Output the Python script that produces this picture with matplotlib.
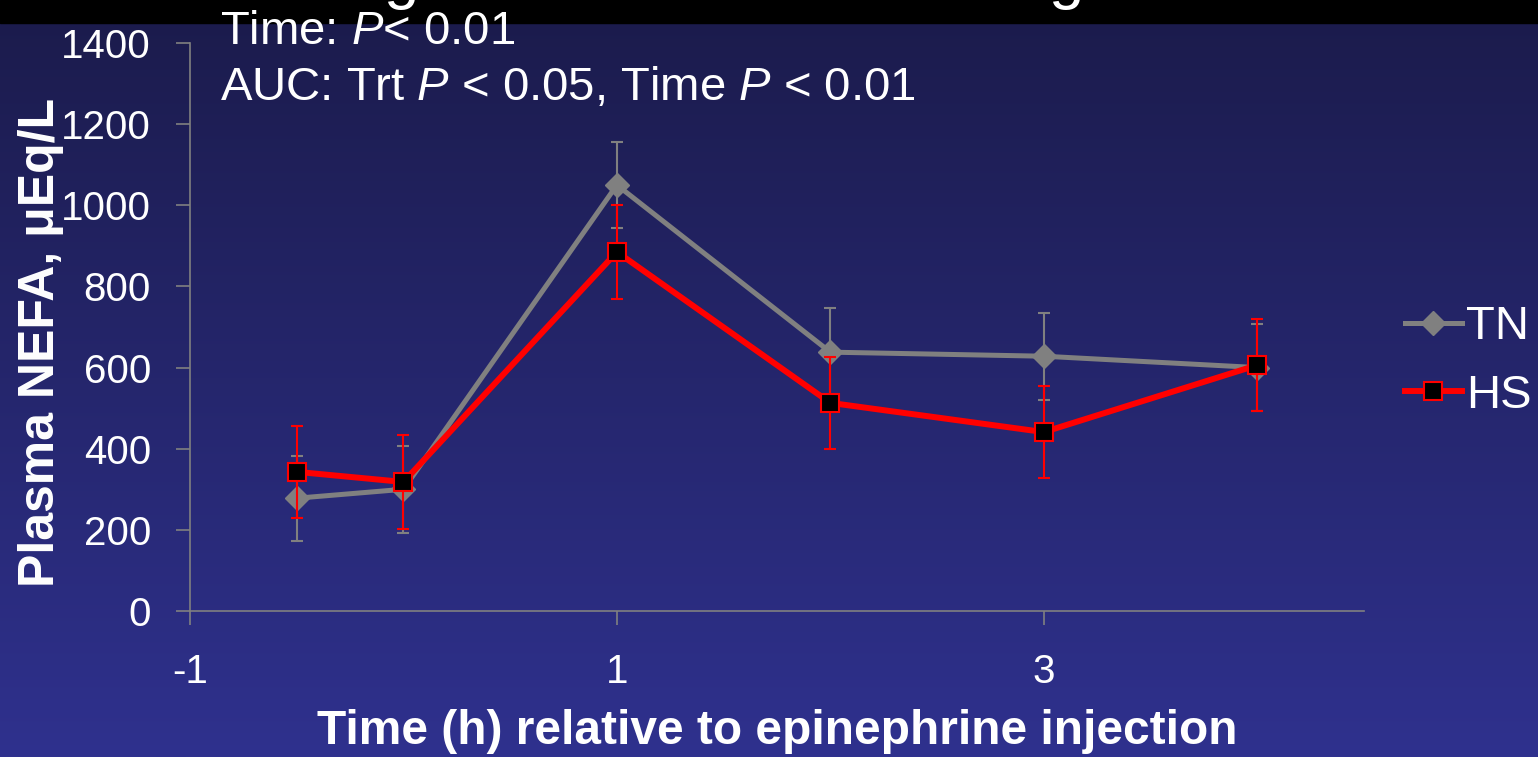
import numpy as np
import matplotlib
matplotlib.use("Agg")
import matplotlib.pyplot as plt
from matplotlib.lines import Line2D
from matplotlib.colors import LinearSegmentedColormap

plt.rcParams['font.family'] = ['Liberation Sans', 'DejaVu Sans']
plt.rcParams['mathtext.fontset'] = 'custom'
plt.rcParams['mathtext.it'] = 'Liberation Sans:italic'
plt.rcParams['mathtext.rm'] = 'Liberation Sans'
plt.rcParams['axes.unicode_minus'] = False

# ---- data ----
time_h = [-0.5, 0, 1, 2, 3, 4]
tn_mean = [278, 300, 1050, 638, 628, 600]
tn_err = [105, 107, 107, 108, 107, 108]
hs_mean = [343, 318, 885, 513, 441, 606]
hs_err = [113, 115, 115, 114, 113, 113]
series_labels = ["TN", "HS"]
x_ticks = [-1, 1, 3]
y_ticks = [0, 200, 400, 600, 800, 1000, 1200, 1400]
annot1 = r"Time: $P$< 0.01"
annot2 = r"AUC: Trt $P$ < 0.05, Time $P$ < 0.01"
xlabel = "Time (h) relative to epinephrine injection"
ylabel = "Plasma NEFA, μEq/L"

W, H = 1538, 757
fig = plt.figure(figsize=(W / 100, H / 100), dpi=100)

# background gradient
bg = fig.add_axes([0, 0, 1, 1], zorder=-10)
cmap = LinearSegmentedColormap.from_list("bg", ["#1b1b4b", "#2f318e"])
grad = np.linspace(0, 1, 256).reshape(-1, 1)
bg.imshow(grad, aspect='auto', cmap=cmap, extent=[0, 1, 0, 1], origin='upper')
bg.set_xlim(0, 1); bg.set_ylim(0, 1)
bg.axis('off')
# black title band
bg.axhspan(1 - 23 / H, 1, color='black', zorder=2)
# cut-off title glyph fragments (descenders of the slide title above)
for gx in [383, 1048]:
    fig.text(gx / W, 1 + 3 / H, "g", color='white', fontsize=46, ha='left', va='baseline')

ax = fig.add_axes([190 / W, 1 - 611 / H, (1364 - 190) / W, (611 - 43) / H])
ax.patch.set_alpha(0)

grey = '#808080'
red = '#ff0000'
ax.errorbar(time_h, tn_mean, yerr=tn_err, color=grey, lw=3.6, marker='D', ms=12,
            mfc=grey, mec=grey, ecolor=grey, elinewidth=1.5, capsize=4.5, capthick=1.5,
            zorder=3, label=series_labels[0])
ax.errorbar(time_h, hs_mean, yerr=hs_err, color=red, lw=4.3, marker='s', ms=13,
            mfc='black', mec=red, mew=1.5, ecolor=red, elinewidth=1.5, capsize=4.5,
            capthick=1.5, zorder=4, label=series_labels[1])

ax.set_xlim(-1, 4.5)
ax.set_ylim(0, 1400)
ax.set_xticks(x_ticks)
ax.set_yticks(y_ticks)
for s in ['top', 'right']:
    ax.spines[s].set_visible(False)
for s in ['left', 'bottom']:
    ax.spines[s].set_color(grey)
    ax.spines[s].set_linewidth(1.2)
ax.tick_params(axis='both', colors=grey, labelcolor='white', labelsize=29,
               length=10, width=1.2, direction='out')
ax.tick_params(axis='y', pad=18)
ax.tick_params(axis='x', pad=20)

fig.text(777 / W, 1 - 731 / H, xlabel, color='white', fontsize=34.5, fontweight='bold',
         ha='center', va='center')
fig.text(41 / W, 1 - 342 / H, ylabel, color='white', fontsize=36, fontweight='bold',
         ha='center', va='center', rotation=90)

fig.text(220 / W, 1 - 44 / H, annot1, color='white', fontsize=34, ha='left', va='baseline')
fig.text(220 / W, 1 - 100 / H, annot2, color='white', fontsize=34, ha='left', va='baseline')

handles = [
    Line2D([], [], color=grey, lw=3.6, marker='D', ms=12, mfc=grey, mec=grey),
    Line2D([], [], color=red, lw=4.3, marker='s', ms=13, mfc='black', mec=red, mew=1.5),
]
leg = fig.legend(handles, series_labels, loc='center left',
                 bbox_to_anchor=(1405 / W, 1 - 361.5 / H), frameon=False,
                 fontsize=34, handlelength=1.2, handletextpad=0.1,
                 labelspacing=0.52, borderpad=0, borderaxespad=0)
for t in leg.get_texts():
    t.set_color('white')

fig.savefig("out.png", dpi=100)
